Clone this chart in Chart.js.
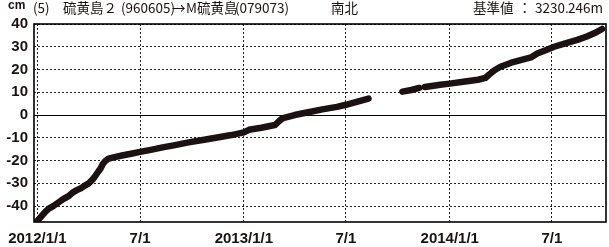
<!DOCTYPE html>
<html><head><meta charset="utf-8">
<script src="https://cdn.jsdelivr.net/npm/chart.js@4/dist/chart.umd.min.js"></script>
<style>html,body{margin:0;padding:0;background:#fff}#wrap{width:609px;height:247px;position:relative}</style>
</head><body><div id="wrap"><canvas id="c" width="609" height="247"></canvas></div>
<script>
// ---- data ----
const obsDates = [
 '2012-01-01','2012-01-08','2012-01-15','2012-01-22','2012-01-29','2012-02-05','2012-02-12','2012-02-19',
 '2012-02-26','2012-03-04','2012-03-11','2012-03-18','2012-03-25','2012-04-01','2012-04-08','2012-04-12',
 '2012-04-18','2012-04-22','2012-04-26','2012-04-30','2012-05-05','2012-05-15','2012-05-30','2012-06-15',
 '2012-07-01','2012-07-20','2012-08-10','2012-09-01','2012-09-25','2012-10-20','2012-11-15','2012-12-10',
 '2013-01-01','2013-01-10','2013-02-01','2013-02-25','2013-03-05','2013-03-10','2013-04-01','2013-04-25',
 '2013-05-20','2013-06-15','2013-07-01','2013-07-20','2013-08-10',
 '2013-09-10',
 '2013-10-09','2013-10-25','2013-11-08',
 '2013-11-13',
 '2013-11-18','2013-12-15','2014-01-01','2014-01-25','2014-02-20','2014-03-05','2014-03-12','2014-03-22',
 '2014-04-01','2014-04-20','2014-05-10','2014-05-25','2014-06-05','2014-06-20','2014-07-05','2014-07-25',
 '2014-08-15','2014-09-01','2014-09-15','2014-09-28'
];
const obsValues = [
 -46.5,-44.5,-42.5,-41.0,-40.0,-38.8,-37.6,-36.5,
 -35.5,-34.0,-33.0,-32.2,-31.0,-30.0,-28.3,-27.0,
 -24.8,-23.5,-21.5,-20.3,-19.3,-18.6,-17.8,-17.0,
 -16.2,-15.3,-14.2,-13.2,-12.0,-11.0,-9.9,-8.8,
 -7.6,-6.5,-5.6,-4.4,-2.6,-1.5,0.0,1.2,
 2.5,3.6,4.5,5.8,7.2,
 null,
 10.3,11.0,11.9,
 null,
 12.3,13.3,13.8,14.6,15.5,16.3,17.8,19.8,
 21.2,23.0,24.3,25.3,27.0,28.5,30.0,31.5,
 33.0,34.5,36.0,37.8
];
const xTickDates = ['2012-01-01','2012-07-01','2013-01-01','2013-07-01','2014-01-01','2014-07-01'];
const xTickLabels = ['2012/1/1','7/1','2013/1/1','7/1','2014/1/1','7/1'];
const yTickValues = [-40,-30,-20,-10,0,10,20,30,40];
const xRange = ['2011-12-26','2014-10-05'];
const yRange = [-47, 40];
const titleMain = ['(5)','硫黄島２','(960605)','→','M','硫黄島','(079073)','南北'];
const titleUnit = 'cm';
const titleRef = ['基準値','：','3230.','246m'];

// ---- helpers ----
const base = Date.UTC(2012,0,1);
const dayNum = s => { const [y,m,d] = s.split('-').map(Number); return (Date.UTC(y,m-1,d)-base)/86400000; };
const points = obsDates.map((d,i)=>({x:dayNum(d), y:obsValues[i]}));
const xTickDays = xTickDates.map(dayNum);
const INK = '#1a1311';
const GRID = '#222';
const axisFont = {family:'"Liberation Sans Narrow","Liberation Sans",Arial,sans-serif', size:15, weight:'bold'};

const framePlugin = {
  id:'frame',
  afterDraw(chart){
    const {ctx, chartArea:a} = chart;
    ctx.save();
    ctx.strokeStyle = '#000'; ctx.lineWidth = 1.6;
    ctx.strokeRect(a.left, a.top, a.right-a.left, a.bottom-a.top);
    // titles
    ctx.fillStyle = INK;
    ctx.textBaseline = 'alphabetic';
    ctx.font = 'bold 12px "Liberation Sans",Arial,sans-serif';
    ctx.fillText(titleUnit, 8, 9);
    ctx.font = '13.5px "Noto Sans CJK JP",sans-serif';
    const xs = [33,63,121,172,186,197,235,331];
    titleMain.forEach((t,i)=>ctx.fillText(t, xs[i], 13));
    const xr = [473,518,535,568];
    titleRef.forEach((t,i)=>ctx.fillText(t, xr[i], 13));
    ctx.restore();
  }
};

new Chart(document.getElementById('c'), {
  type:'line',
  data:{datasets:[{
    data:points, borderColor:INK, backgroundColor:INK, borderWidth:6.5,
    pointRadius:0, tension:0, spanGaps:false, clip:0,
    borderCapStyle:'round', borderJoinStyle:'round'
  }]},
  options:{
    responsive:false, animation:false, devicePixelRatio:1,
    layout:{padding:{left:0,right:3,top:24,bottom:0}},
    plugins:{legend:{display:false}, tooltip:{enabled:false}, title:{display:false}},
    scales:{
      x:{
        type:'linear', min:dayNum(xRange[0]), max:dayNum(xRange[1]),
        afterBuildTicks:s=>{ s.ticks = xTickDays.map(v=>({value:v})); },
        afterFit:s=>{ s.height = 25; },
        ticks:{ autoSkip:false, maxRotation:0, minRotation:0, padding:8, color:INK, font:axisFont,
          callback:v=>{ const i = xTickDays.indexOf(v); return i>=0 ? xTickLabels[i] : ''; } },
        grid:{ color:GRID, lineWidth:1, drawTicks:false },
        border:{ display:false, dash:[2,2] }
      },
      y:{
        type:'linear', min:yRange[0], max:yRange[1],
        afterBuildTicks:s=>{ s.ticks = yTickValues.map(v=>({value:v})); },
        afterFit:s=>{ s.width = 32; },
        ticks:{ autoSkip:false, padding:6, color:INK, font:axisFont },
        grid:{ color:ctx=> (ctx.tick && ctx.tick.value===0) ? '#000' : GRID, lineWidth:1, drawTicks:false },
        border:{ display:false, dash:ctx=> (ctx.tick && ctx.tick.value===0) ? [] : [2,2] }
      }
    }
  },
  plugins:[framePlugin]
});
</script></body></html>
